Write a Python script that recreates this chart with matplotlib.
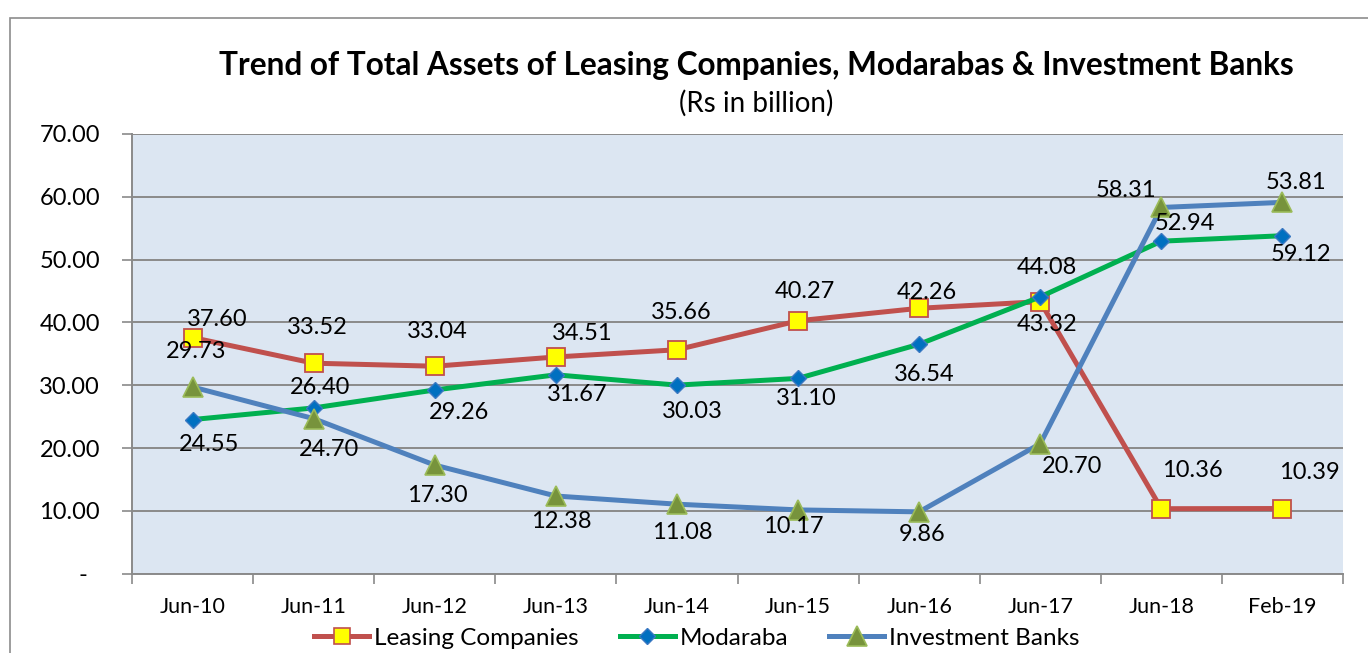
import matplotlib
matplotlib.use("Agg")
import matplotlib.pyplot as plt
from matplotlib.patches import Rectangle
from matplotlib.lines import Line2D

# ---- data ----
categories = ["Jun-10", "Jun-11", "Jun-12", "Jun-13", "Jun-14", "Jun-15",
              "Jun-16", "Jun-17", "Jun-18", "Feb-19"]
leasing = [37.60, 33.52, 33.04, 34.51, 35.66, 40.27, 42.26, 43.32, 10.36, 10.39]
modaraba = [24.55, 26.40, 29.26, 31.67, 30.03, 31.10, 36.54, 44.08, 52.94, 53.81]
invest_banks = [29.73, 24.70, 17.30, 12.38, 11.08, 10.17, 9.86, 20.70, 58.31, 59.12]
# data-label texts as printed on the chart
leasing_labels = ["37.60", "33.52", "33.04", "34.51", "35.66", "40.27", "42.26", "43.32", "10.36", "10.39"]
modaraba_labels = ["24.55", "26.40", "29.26", "31.67", "30.03", "31.10", "36.54", "44.08", "52.94", "59.12"]
ib_labels = ["29.73", "24.70", "17.30", "12.38", "11.08", "10.17", "9.86", "20.70", "58.31", "53.81"]
y_ticks = [0, 10, 20, 30, 40, 50, 60, 70]
y_ticklabels = ["-  ", "10.00", "20.00", "30.00", "40.00", "50.00", "60.00", "70.00"]

# label offsets in pixels (dx right, dy down)
leasing_off = [(25, -18), (4, -36), (3, -35), (26, -23), (4, -37), (7, -29), (8, -16), (7, 23), (31, -38), (27, -36)]
modaraba_off = [(17, 25), (6, -20), (24, 23), (21, 20), (15, 26), (8, 20), (5, 30), (7, -29), (24, -18), (18, 19)]
ib_off = [(4, -36), (15, 31), (3, 30), (5, 25), (5, 28), (-5, 17), (3, 23), (32, 23), (-35, -17), (14, -20)]

W, H = 1368, 653
DPI = 100
FONT = "Lato"

fig = plt.figure(figsize=(W / DPI, H / DPI), dpi=DPI)
fig.patch.set_facecolor("white")

# outer chart frame (cropped at right and bottom)
fig.add_artist(Rectangle((10 / W, -0.1), 1.2, (H - 18) / H + 0.1, transform=fig.transFigure,
                         fill=False, edgecolor="#8C8C8C", linewidth=1.2))

left, right = 132 / W, 1343 / W
bottom, top = (H - 573.8) / H, (H - 134) / H
ax = fig.add_axes([left, bottom, right - left, top - bottom])
ax.set_facecolor("#DCE6F2")

x = list(range(len(categories)))
ax.set_xlim(-0.5, len(categories) - 0.5)
ax.set_ylim(0, 70)

grid_c = "#8A8A8A"
ax.set_yticks(y_ticks)
ax.set_yticklabels(y_ticklabels, fontfamily=FONT, fontsize=17)
ax.yaxis.grid(True, color=grid_c, linewidth=1.4)
ax.set_axisbelow(True)

ax.set_xticks([i + 0.5 for i in range(-1, len(categories))])
ax.set_xticklabels([])
ax.set_xticks(x, minor=True)
ax.set_xticklabels(categories, minor=True, fontfamily=FONT, fontsize=15.5)
ax.tick_params(axis="x", which="major", length=7, color=grid_c, width=1.2)
ax.tick_params(axis="x", which="minor", length=0, pad=17)
ax.tick_params(axis="y", length=7, color=grid_c, width=1.2, pad=16)

for s in ["top", "right"]:
    ax.spines[s].set_visible(False)
for s in ["left", "bottom"]:
    ax.spines[s].set_color(grid_c)
    ax.spines[s].set_linewidth(1.4)

lw = 3.6
ax.plot(x, leasing, color="#C0504D", lw=lw, marker="s", ms=13,
        mfc="#FFFF00", mec="#C0504D", mew=1.3, zorder=3, label="Leasing Companies", clip_on=False)
ax.plot(x, modaraba, color="#00B050", lw=lw, marker="D", ms=8.5,
        mfc="#0070C0", mec="#3A78C2", mew=1.0, zorder=4, label="Modaraba", clip_on=False)
ax.plot(x, invest_banks, color="#4F81BD", lw=lw, marker="^", ms=14,
        mfc="#77933C", mec="#9BBB59", mew=1.2, zorder=5, label="Investment Banks", clip_on=False)

def add_labels(vals, texts, offs):
    for xi, v, t, (dx, dy) in zip(x, vals, texts, offs):
        ax.annotate(t, (xi, v), xytext=(dx * 0.72, -dy * 0.72), textcoords="offset points",
                    ha="center", va="center", fontfamily=FONT, fontsize=17, color="black", zorder=6)

add_labels(leasing, leasing_labels, leasing_off)
add_labels(modaraba, modaraba_labels, modaraba_off)
add_labels(invest_banks, ib_labels, ib_off)

# titles
fig.text(756.5 / W, 1 - 66 / H, "Trend of Total Assets of Leasing Companies, Modarabas & Investment Banks",
         ha="center", va="center", fontfamily=FONT, fontweight="bold", fontsize=22.7)
fig.text(756.5 / W, 1 - 103 / H, "(Rs in billion)", ha="center", va="center",
         fontfamily=FONT, fontsize=20)

# legend
handles = [
    Line2D([], [], color="#C0504D", lw=lw, marker="s", ms=12, mfc="#FFFF00", mec="#C0504D", mew=1.2),
    Line2D([], [], color="#00B050", lw=lw, marker="D", ms=8.5, mfc="#0070C0", mec="#3A78C2", mew=1.0),
    Line2D([], [], color="#4F81BD", lw=lw, marker="^", ms=14, mfc="#77933C", mec="#9BBB59", mew=1.2),
]
fig.legend(handles, ["Leasing Companies", "Modaraba", "Investment Banks"],
           loc="center", bbox_to_anchor=(697 / W, 1 - 638 / H), ncol=3, frameon=False,
           prop={"family": FONT, "size": 17.5}, handlelength=2.25, handletextpad=0.2,
           columnspacing=1.7, borderpad=0, borderaxespad=0)

fig.savefig("out.png", dpi=DPI)
